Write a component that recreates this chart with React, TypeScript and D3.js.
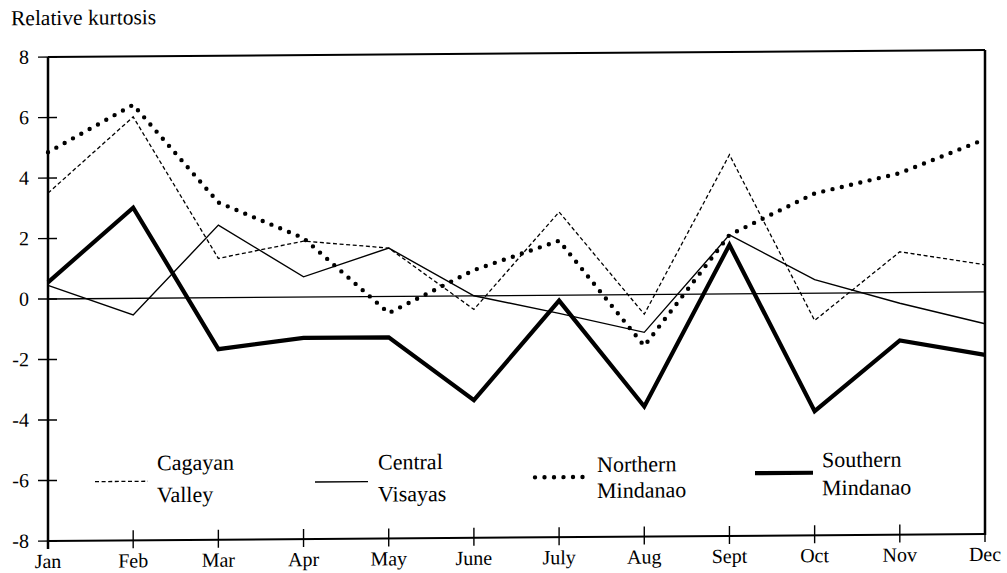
import React from "react";
import * as d3 from "d3";

const months = ["Jan", "Feb", "Mar", "Apr", "May", "June", "July", "Aug", "Sept", "Oct", "Nov", "Dec"];
const yTicks = [8, 6, 4, 2, 0, -2, -4, -6, -8];
const cagayanValley = [3.5, 6.0, 1.3, 1.85, 1.6, -0.45, 2.75, -0.65, 4.6, -0.9, 1.35, 0.9];
const centralVisayas = [0.45, -0.55, 2.4, 0.67, 1.6, 0.0, -0.6, -1.25, 1.95, 0.45, -0.35, -1.05];
const northernMindanao = [4.85, 6.4, 3.15, 1.95, -0.55, 0.85, 1.8, -1.7, 1.95, 3.3, 3.95, 5.05];
const southernMindanao = [0.55, 3.0, -1.7, -1.35, -1.35, -3.45, -0.18, -3.7, 1.62, -3.9, -1.58, -2.08];
const legendNames = [["Cagayan", "Valley"], ["Central", "Visayas"], ["Northern", "Mindanao"], ["Southern", "Mindanao"]];

const W = 1007;
const H = 573;
const K = 0.0075; // scan skew

export default function App() {
  const x = d3.scaleLinear().domain([0, months.length - 1]).range([48, 985]);
  const y = d3.scaleLinear().domain([-8, 8]).range([541, 57]);
  const line = d3
    .line<number>()
    .x((_, i) => x(i))
    .y((d) => y(d));

  const font = "'Liberation Serif', 'Times New Roman', serif";
  const series = [
    { data: cagayanValley, sw: 1.3, dash: "4 2.6", cap: "butt" as const },
    { data: centralVisayas, sw: 1.4, dash: undefined, cap: "butt" as const },
    { data: northernMindanao, sw: 4.4, dash: "0 9.5", cap: "round" as const },
    { data: southernMindanao, sw: 4.2, dash: undefined, cap: "butt" as const },
  ];
  const legend = [
    { x1: 95, x2: 148, ly: 482, tx: 157, t1: 471, t2: 503 },
    { x1: 315, x2: 368, ly: 484, tx: 378, t1: 472, t2: 504 },
    { x1: 535, x2: 588, ly: 481, tx: 597, t1: 476, t2: 502 },
    { x1: 755, x2: 813, ly: 478.5, tx: 822, t1: 473, t2: 501 },
  ];
  const ts = { fontFamily: font };

  return (
    <svg
      width={W}
      height={H}
      style={{ position: "absolute", left: 0, top: 0, background: "#fff", fontFamily: font }}
    >
      <rect x={0} y={0} width={W} height={H} fill="#fff" />
      <g transform={`matrix(1, ${-K}, 0, 1, 0, ${K * 48})`} fill="#000" style={ts}>
        <text x={11} y={25} fontSize={21.5} style={ts}>Relative kurtosis</text>

        {/* frame */}
        <line x1={48} x2={985} y1={y(8)} y2={y(8)} stroke="#000" strokeWidth={2} />
        <line x1={48} x2={985} y1={y(-8)} y2={y(-8)} stroke="#000" strokeWidth={2} />
        <line x1={48} x2={48} y1={y(8)} y2={y(-8) + 8} stroke="#000" strokeWidth={2.5} />
        <line x1={985} x2={985} y1={y(8)} y2={y(-8) + 1} stroke="#000" strokeWidth={2.5} />
        <line x1={48} x2={985} y1={y(0)} y2={y(0)} stroke="#000" strokeWidth={1.3} />

        {yTicks.map((t) => (
          <g key={t}>
            <line x1={38} x2={57} y1={y(t)} y2={y(t)} stroke="#000" strokeWidth={1.4} />
            <text x={29} y={y(t) + 6.5} fontSize={20} textAnchor="end" style={ts}>{t}</text>
          </g>
        ))}
        {months.map((m, i) => (
          <g key={m}>
            <line x1={x(i)} x2={x(i)} y1={y(-8) - 10} y2={y(-8) + 8} stroke="#000" strokeWidth={1.4} />
            <text x={x(i)} y={568} fontSize={20} textAnchor="middle" style={ts}>{m}</text>
          </g>
        ))}

        {series.map((s, i) => (
          <path
            key={i}
            d={line(s.data) || ""}
            fill="none"
            stroke="#000"
            strokeWidth={s.sw}
            strokeDasharray={s.dash}
            strokeLinecap={s.cap}
            strokeLinejoin="miter"
          />
        ))}

        {legend.map((l, i) => (
          <g key={i}>
            <line
              x1={l.x1}
              x2={l.x2}
              y1={l.ly}
              y2={l.ly}
              stroke="#000"
              strokeWidth={series[i].sw}
              strokeDasharray={series[i].dash}
              strokeLinecap={series[i].cap}
            />
            <text x={l.tx} y={l.t1} fontSize={22} style={ts}>{legendNames[i][0]}</text>
            <text x={l.tx} y={l.t2} fontSize={22} style={ts}>{legendNames[i][1]}</text>
          </g>
        ))}
      </g>
    </svg>
  );
}
